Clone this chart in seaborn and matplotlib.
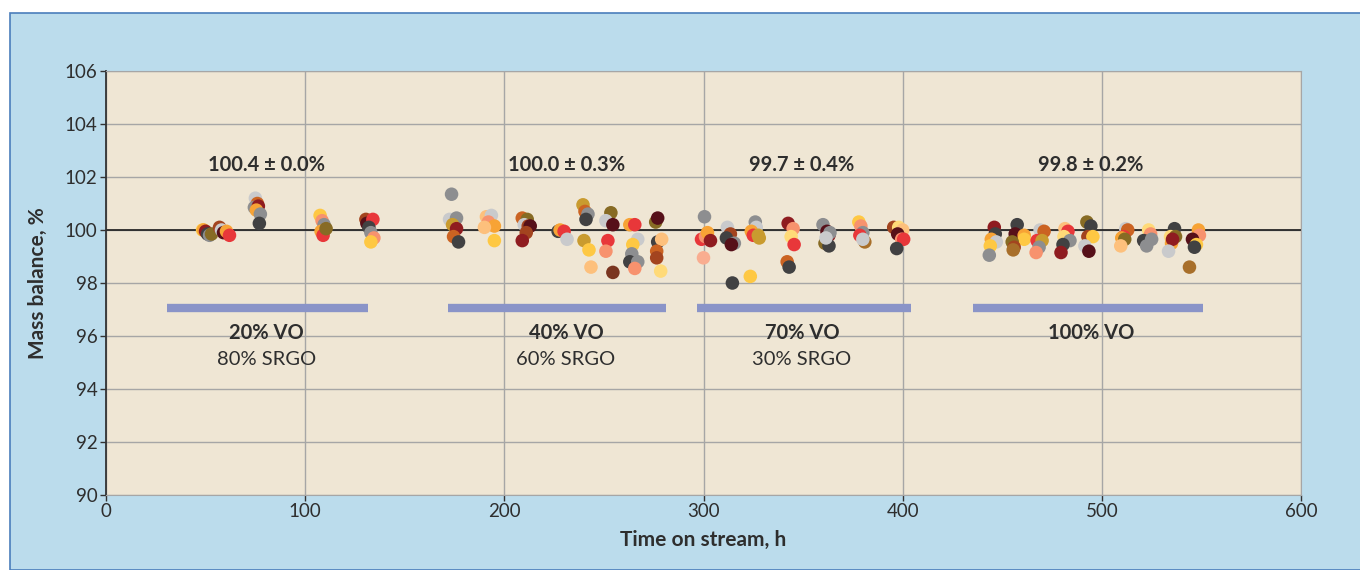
import matplotlib
matplotlib.use('Agg')
import matplotlib.pyplot as plt
from matplotlib.patches import Rectangle
import seaborn as sns
import pandas as pd

# --- data ---
hours_20 = [48.5, 49, 50, 51, 52, 53, 57, 58, 59, 60.5, 62,
            75, 76, 74.5, 76.5, 75.5, 77.5, 77,
            107.5, 108.5, 109.5, 108, 109, 110.5,
            130.5, 131, 134, 132, 133, 134.5, 133]
mass_20 = [100.0, 100.0, 99.95, 99.85, 99.8, 99.85, 100.1, 100.0, 99.9, 99.95, 99.8,
           101.2, 101.0, 100.85, 100.9, 100.75, 100.6, 100.25,
           100.55, 100.35, 100.2, 99.95, 99.8, 100.05,
           100.4, 100.25, 100.4, 100.1, 99.9, 99.7, 99.55]
colors_20 = ['yellow', 'orange', 'maroon', 'dgray', 'gray', 'dgold', 'brownred', 'lgray', 'dmaroon', 'orange', 'red',
             'lgray', 'obrown', 'gray', 'maroon', 'orange', 'gray', 'dgray',
             'yellow', 'salmon', 'gray', 'orange', 'red', 'dgold',
             'brownred', 'dmaroon', 'red', 'dgray', 'gray', 'salmon', 'yellow']

hours_40 = [173.5, 172.5, 176, 174, 176, 174.5, 177,
            191, 193.5, 192, 195, 190, 195,
            209, 211.5, 210, 212, 213, 211, 209,
            227, 228, 230, 231.5,
            239.5, 240.5, 242, 241, 240, 242.5, 243.5,
            253.5, 251, 254.5, 252, 251, 254.5,
            263, 265.5, 267, 264.5, 264, 263, 267, 265.5,
            276, 277, 277, 279, 276.5, 276.5, 278.5]
mass_40 = [101.35, 100.4, 100.45, 100.2, 100.05, 99.75, 99.55,
           100.5, 100.55, 100.3, 100.15, 100.1, 99.6,
           100.45, 100.4, 100.2, 100.15, 100.15, 99.9, 99.6,
           99.95, 100.0, 99.95, 99.65,
           100.95, 100.7, 100.6, 100.4, 99.6, 99.25, 98.6,
           100.65, 100.35, 100.2, 99.6, 99.2, 98.4,
           100.2, 100.2, 99.65, 99.45, 99.1, 98.8, 98.8, 98.55,
           100.3, 100.45, 99.55, 99.65, 99.2, 98.95, 98.45]
colors_40 = ['gray', 'lgray', 'gray', 'gold', 'maroon', 'obrown', 'dgray',
             'lorange', 'lgray', 'salmon', 'orange', 'lorange', 'yellow',
             'obrown', 'dgold', 'lgray', 'brownred', 'dmaroon', 'brownred', 'maroon',
             'dgray', 'orange', 'red', 'lgray',
             'gold', 'obrown', 'gray', 'dgray', 'gold', 'yellow', 'lorange',
             'dgold', 'lgray', 'dmaroon', 'red', 'salmon', 'brown',
             'orange', 'red', 'lgray', 'yellow', 'gray', 'dgray', 'gray', 'salmon',
             'dgold', 'dmaroon', 'dgray', 'lorange', 'obrown', 'brownred', 'lyellow']

hours_70 = [300.5, 299, 301, 302, 303.5, 300,
            312, 313.5, 311.5, 315.5, 314, 314.5,
            326, 326.5, 324, 325, 327.5, 328, 323.5,
            342.5, 345, 344, 345.5, 342, 343,
            360, 362, 363, 363.5, 361, 363, 361.5,
            378, 379, 380, 378.5, 381, 380,
            395.5, 398, 400, 397.5, 399.5, 400.5, 397]
mass_70 = [100.5, 99.65, 99.75, 99.9, 99.6, 98.95,
           100.1, 99.85, 99.7, 99.5, 99.45, 98.0,
           100.3, 100.1, 99.95, 99.8, 99.8, 99.7, 98.25,
           100.25, 100.05, 99.75, 99.45, 98.8, 98.6,
           100.2, 99.95, 99.8, 99.9, 99.5, 99.4, 99.7,
           100.3, 100.15, 99.9, 99.8, 99.55, 99.65,
           100.1, 100.1, 100.0, 99.85, 99.65, 99.65, 99.3]
colors_70 = ['gray', 'red', 'salmon', 'orange', 'maroon', 'lsalmon',
             'lgray', 'brownred', 'dgray', 'gray', 'dmaroon', 'dgray',
             'gray', 'lgray', 'orange', 'red', 'gold', 'gold', 'yellow',
             'maroon', 'salmon', 'lyellow', 'red', 'obrown', 'dgray',
             'gray', 'dmaroon', 'maroon', 'gray', 'dgold', 'dgray', 'lgray',
             'yellow', 'salmon', 'gray', 'red', 'ochre', 'lgray',
             'brownred', 'lyellow', 'lorange', 'dmaroon', 'salmon', 'red', 'dgray']

hours_100 = [446, 446.5, 444.5, 447, 444, 443.5,
             457.5, 456.5, 461, 461, 455, 456, 455.5,
             469, 471, 467.5, 470, 468.5, 467,
             481.5, 483, 481, 484, 480.5, 479.5,
             492.5, 494.5, 493, 495.5, 491.5, 493.5,
             512, 513, 511, 510, 511.5, 509.5,
             523.5, 524.5, 521, 525, 522.5,
             536.5, 534.5, 537, 535, 535.5, 533.5,
             548.5, 549, 545.5, 547.5, 546.5, 544]
mass_100 = [100.1, 99.85, 99.65, 99.55, 99.4, 99.05,
            100.2, 99.85, 99.8, 99.65, 99.55, 99.35, 99.25,
            100.0, 99.95, 99.6, 99.6, 99.35, 99.15,
            100.05, 99.95, 99.75, 99.6, 99.45, 99.15,
            100.3, 100.15, 99.75, 99.75, 99.4, 99.2,
            100.05, 100.0, 99.75, 99.7, 99.65, 99.4,
            100.0, 99.85, 99.6, 99.65, 99.4,
            100.05, 99.75, 99.75, 99.5, 99.65, 99.2,
            100.0, 99.8, 99.65, 99.45, 99.35, 98.6]
colors_100 = ['maroon', 'dgray', 'orange', 'lgray', 'yellow', 'gray',
              'dgray', 'dmaroon', 'orange', 'yellow', 'dgold', 'brownred', 'ochre',
              'lgray', 'obrown', 'red', 'gold', 'gray', 'salmon',
              'lorange', 'red', 'lyellow', 'gray', 'dgray', 'maroon',
              'dgold', 'dgray', 'brownred', 'yellow', 'lgray', 'dmaroon',
              'lgray', 'obrown', 'red', 'orange', 'dgold', 'lorange',
              'lyellow', 'salmon', 'dgray', 'gray', 'gray',
              'dgray', 'lyellow', 'dgold', 'orange', 'maroon', 'lgray',
              'orange', 'salmon', 'dmaroon', 'yellow', 'dgray', 'ochre']

# blend periods
blend_start = [30.5, 171.5, 296.5, 435.5]
blend_end = [131.5, 281, 404, 551]
blend_vo = ['20% VO', '40% VO', '70% VO', '100% VO']
blend_srgo = ['80% SRGO', '60% SRGO', '30% SRGO', '']
blend_mid = [80.5, 231, 349.5, 494.5]
blend_mean = ['100.4 \u00b1 0.0%', '100.0 \u00b1 0.3%', '99.7 \u00b1 0.4%', '99.8 \u00b1 0.2%']

palette = {
    'dgray': '#414142', 'gray': '#8d8e90', 'lgray': '#c9cacc',
    'dmaroon': '#561019', 'maroon': '#8f1c20', 'brownred': '#a3441f',
    'brown': '#7a3520', 'obrown': '#cb6322', 'dgold': '#876b24',
    'gold': '#c99b2f', 'ochre': '#a86f2a', 'orange': '#f7a335',
    'yellow': '#fec843', 'lyellow': '#ffda78', 'lorange': '#fdc07c',
    'salmon': '#f7926e', 'lsalmon': '#f9ad90', 'red': '#e8373a',
}

df = pd.concat([
    pd.DataFrame({'hours': hours_20, 'mass': mass_20, 'color': colors_20}),
    pd.DataFrame({'hours': hours_40, 'mass': mass_40, 'color': colors_40}),
    pd.DataFrame({'hours': hours_70, 'mass': mass_70, 'color': colors_70}),
    pd.DataFrame({'hours': hours_100, 'mass': mass_100, 'color': colors_100}),
], ignore_index=True)

sns.set_style('white')
plt.rcParams['font.family'] = ['Lato', 'DejaVu Sans']
text_col = '#2e2e2e'

fig = plt.figure(figsize=(13.6, 5.7), dpi=100)
fig.patch.set_facecolor('white')
fig.patches.append(Rectangle((10 / 1360, 0), 1.0, (570 - 13) / 570, transform=fig.transFigure,
                             facecolor='#bbdcec', edgecolor='#4a7ebb', linewidth=1.2, zorder=-10))

ax = fig.add_axes([106 / 1360, 75 / 570, (1301 - 106) / 1360, (495 - 71) / 570])
ax.set_facecolor('#efe6d4')

ax.set_xlim(0, 600)
ax.set_ylim(90, 106)
ax.set_xticks(range(0, 601, 100))
ax.set_yticks(range(90, 107, 2))
ax.grid(True, color='#a6a6a6', linewidth=1.0)
ax.set_axisbelow(True)
ax.axhline(100, color='#1a1a1a', linewidth=1.2, zorder=1)

ax.hlines([97.06] * len(blend_start), blend_start, blend_end, color='#8a94c8', linewidth=6, zorder=2)

sns.scatterplot(data=df, x='hours', y='mass', hue='color', palette=palette, s=95,
                edgecolor='none', linewidth=0, legend=False, ax=ax, zorder=3)

for xm, vo, srgo, mean in zip(blend_mid, blend_vo, blend_srgo, blend_mean):
    ax.text(xm, 102.47, mean, ha='center', va='center', fontsize=14.5, fontweight='bold', color=text_col)
    ax.text(xm, 96.1, vo, ha='center', va='center', fontsize=14.5, fontweight='bold', color=text_col)
    if srgo:
        ax.text(xm, 95.13, srgo, ha='center', va='center', fontsize=14.5, color=text_col)

for side in ['top', 'right', 'bottom']:
    ax.spines[side].set_color('#a6a6a6')
ax.spines['left'].set_color('#333333')
ax.spines['left'].set_linewidth(1.3)
ax.tick_params(axis='both', direction='out', length=4, width=1, color='#333333',
               labelsize=13.5, labelcolor=text_col, pad=2, left=True, bottom=True)

ax.set_xlabel('Time on stream, h', fontsize=15, fontweight='bold', color=text_col, labelpad=7)
ax.set_ylabel('Mass balance, %', fontsize=15, fontweight='bold', color=text_col, labelpad=12)

fig.savefig('out.png', dpi=100)
